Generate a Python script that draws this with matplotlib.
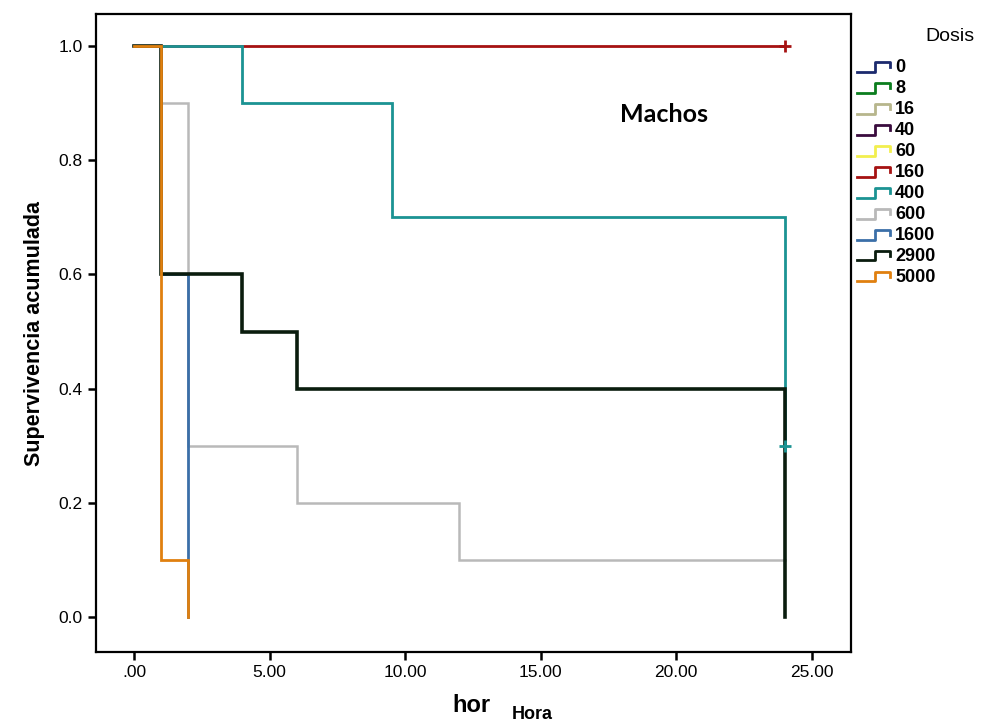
import matplotlib
matplotlib.use("Agg")
import matplotlib.pyplot as plt
from matplotlib.lines import Line2D
from matplotlib.legend_handler import HandlerBase

plt.rcParams['font.family'] = ['Liberation Sans', 'DejaVu Sans']

# Dosis groups (legend) and their colours
doses = ['0', '8', '16', '40', '60', '160', '400', '600', '1600', '2900', '5000']
colors = ['#1c2a6e', '#0b7d1e', '#b7b68c', '#3a0c3e', '#f2ef4e', '#a61212',
          '#1b9393', '#b9b9b9', '#3b6fa8', '#0a1c0e', '#e0800f']

# Kaplan-Meier steps (hours, cumulative survival) for groups with data
curves = {
    '160':  ([0, 24], [1.0, 1.0]),
    '400':  ([0, 4, 9.5, 24], [1.0, 0.9, 0.7, 0.3]),
    '600':  ([0, 1, 2, 6, 12, 24], [1.0, 0.9, 0.3, 0.2, 0.1, 0.1]),
    '1600': ([0, 1, 2], [1.0, 0.6, 0.0]),
    '2900': ([0, 1, 4, 6, 24], [1.0, 0.6, 0.5, 0.4, 0.0]),
    '5000': ([0, 1, 2], [1.0, 0.1, 0.0]),
}
# censored observations
censored = {'160': (24, 1.0), '400': (24, 0.3)}

xticks = [0, 5, 10, 15, 20, 25]
xticklabels = ['.00', '5.00', '10.00', '15.00', '20.00', '25.00']
yticks = [0.0, 0.2, 0.4, 0.6, 0.8, 1.0]


class StepHandler(HandlerBase):
    def create_artists(self, legend, orig_handle, xdescent, ydescent,
                       width, height, fontsize, trans):
        w, h = width, height
        xs = [-xdescent, -xdescent + 0.5 * w, -xdescent + 0.5 * w,
              -xdescent + 0.92 * w, -xdescent + 0.92 * w]
        ys = [-ydescent + 0.05 * h, -ydescent + 0.05 * h, -ydescent + 0.8 * h,
              -ydescent + 0.8 * h, -ydescent + 0.4 * h]
        ln = Line2D(xs, ys, color=orig_handle.get_color(), lw=2.0, transform=trans)
        return [ln]


fig = plt.figure(figsize=(9.84, 7.24), dpi=100)
ax = fig.add_axes([0.0976, 0.0994, 0.7674, 0.8813])

widths = {'160': 2.0, '400': 2.0, '600': 1.8, '1600': 2.0, '2900': 2.6, '5000': 2.0}
for d in ['160', '400', '600', '1600', '2900', '5000']:
    t, s = curves[d]
    c = colors[doses.index(d)]
    ax.step(t, s, where='post', color=c, lw=widths[d], solid_joinstyle='miter')
for d, (t, s) in censored.items():
    c = colors[doses.index(d)]
    ax.plot([t], [s], marker='+', color=c, ms=9, mew=2.0, zorder=5)

ax.set_xlim(-1.4, 26.45)
ax.set_ylim(-0.061, 1.056)
ax.set_xticks(xticks)
ax.set_xticklabels(xticklabels)
ax.set_yticks(yticks)
ax.set_yticklabels(['%.1f' % v for v in yticks])
ax.tick_params(direction='out', length=6, width=1.8, labelsize=12.5)
for sp in ax.spines.values():
    sp.set_linewidth(1.6)

ax.set_ylabel('Supervivencia acumulada', fontsize=15.5, fontweight='bold', labelpad=10)
ax.text(0.752, 0.842, 'Machos', transform=ax.transAxes, fontsize=18,
        fontweight='bold', family=['Lato', 'DejaVu Sans'], ha='center', va='center')

fig.text(0.4795, 0.026, 'hor', fontsize=17, fontweight='bold', ha='center', va='center')
fig.text(0.541, 0.013, 'Hora', fontsize=13, fontweight='bold', ha='center', va='center')

handles = [Line2D([], [], color=c) for c in colors]
fig.text(0.965, 0.949, 'Dosis', fontsize=14, ha='center', va='center')
fig.legend(handles, doses, loc='upper left', bbox_to_anchor=(0.871, 0.918),
           frameon=False, handler_map={Line2D: StepHandler()},
           handlelength=2.0, handletextpad=0.1, labelspacing=0.22,
           borderaxespad=0, borderpad=0, prop={'weight': 'bold', 'size': 13})

fig.savefig('out.png', dpi=100)
